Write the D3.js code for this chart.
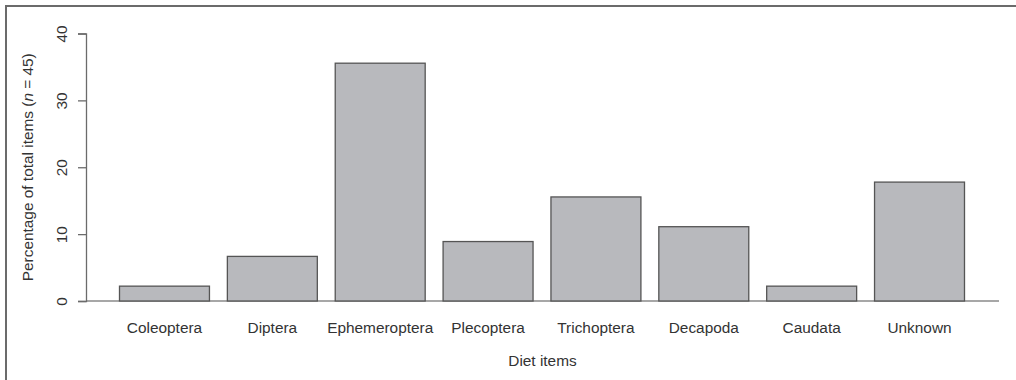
<!DOCTYPE html>
<html>
<head>
<meta charset="utf-8">
<script src="https://cdn.jsdelivr.net/npm/d3@7"></script>
<style>
  html, body { margin: 0; padding: 0; background: #fff; }
  svg { display: block; font-family: "Liberation Sans", Arial, sans-serif; }
</style>
</head>
<body>
<svg id="chart" width="1016" height="380"></svg>
<script>
// Diet composition (share of 45 prey items)
const categories = ["Coleoptera", "Diptera", "Ephemeroptera", "Plecoptera",
                    "Trichoptera", "Decapoda", "Caudata", "Unknown"];
const percentages = [2.22, 6.67, 35.56, 8.89, 15.56, 11.11, 2.22, 17.78];
const yTicks = [0, 10, 20, 30, 40];

const svg = d3.select("#chart");
const textColor = "#333";
const fontSize = "15.4px";

// Frame around the figure
svg.append("path")
  .attr("d", "M6,380 V6 H1016")
  .attr("fill", "none")
  .attr("stroke", "#6b6b6b")
  .attr("stroke-width", 2);

const plot = { left: 86, right: 999, top: 33.5, bottom: 301 };

const y = d3.scaleLinear().domain([0, 40]).range([plot.bottom, plot.top]);

// Bars: width w with a 0.2w gap between neighbours
const x = d3.scaleBand()
  .domain(categories)
  .range([119.5, 964.5])
  .paddingInner(0.166)
  .paddingOuter(0);

// Baseline
svg.append("line")
  .attr("x1", plot.left).attr("x2", plot.right)
  .attr("y1", y(0)).attr("y2", y(0))
  .attr("stroke", "#8a8a8a").attr("stroke-width", 1.3);

// Bars
svg.append("g").selectAll("rect")
  .data(categories)
  .join("rect")
  .attr("x", d => x(d))
  .attr("width", x.bandwidth())
  .attr("y", (d, i) => y(percentages[i]))
  .attr("height", (d, i) => y(0) - y(percentages[i]))
  .attr("fill", "#b8b9bd")
  .attr("stroke", "#555")
  .attr("stroke-width", 1.3);

// Y axis
const yAxis = svg.append("g")
  .attr("transform", `translate(${plot.left},0)`)
  .call(d3.axisLeft(y).tickValues(yTicks).tickSize(8).tickPadding(0).tickFormat(d3.format("d")));
yAxis.select(".domain").attr("stroke", "#6b6b6b").attr("stroke-width", 1.3);
yAxis.selectAll(".tick line").attr("stroke", "#6b6b6b").attr("stroke-width", 1.3);
yAxis.selectAll(".tick text")
  .attr("x", null).attr("dy", null)
  .attr("text-anchor", "middle")
  .attr("transform", "translate(-19,0) rotate(-90)")
  .attr("fill", textColor)
  .style("font-size", fontSize)
  .style("font-family", "Liberation Sans, Arial, sans-serif");

// X category labels
svg.append("g").selectAll("text")
  .data(categories)
  .join("text")
  .attr("x", d => x(d) + x.bandwidth() / 2)
  .attr("y", 332.5)
  .attr("text-anchor", "middle")
  .attr("fill", textColor)
  .style("font-size", fontSize)
  .text(d => d);

// Axis titles
svg.append("text")
  .attr("x", (plot.left + plot.right) / 2)
  .attr("y", 366)
  .attr("text-anchor", "middle")
  .attr("fill", textColor)
  .style("font-size", fontSize)
  .text("Diet items");

const yTitle = svg.append("text")
  .attr("transform", `translate(33,${(plot.top + plot.bottom) / 2}) rotate(-90)`)
  .attr("text-anchor", "middle")
  .attr("fill", textColor)
  .style("font-size", fontSize);
yTitle.append("tspan").text("Percentage of total items (");
yTitle.append("tspan").style("font-style", "italic").text("n");
yTitle.append("tspan").text(" = 45)");
</script>
</body>
</html>
